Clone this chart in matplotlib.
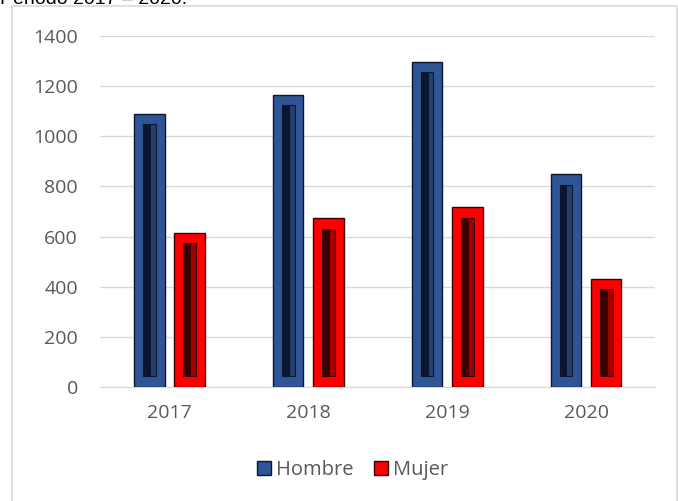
import matplotlib.pyplot as plt
import matplotlib.patches as mpatches
import numpy as np

# datos
years   = ['2017', '2018', '2019', '2020']
hombre  = [1090, 1165, 1297, 848]
mujer   = [615, 673, 718, 432]

COLOR_H = '#2F5597'
COLOR_M = '#FF0000'
DARK_H  = '#0B1730'
DARK_M  = '#3A0000'
GRAY    = '#595959'

plt.rcParams['font.family'] = ['Open Sans', 'DejaVu Sans']

fig = plt.figure(figsize=(6.78, 5.01), dpi=100)
ax = fig.add_axes([0.1475, 0.2275, 0.8193, 0.7006])

x = np.arange(len(years))
w = 0.22
off = 0.145


def bevel_bars(xs, vals, color, dark, light):
    # barra principal + canal oscuro interior (efecto bisel)
    ax.bar(xs, vals, width=w, color=color, edgecolor=dark, linewidth=1.0, zorder=3)
    inner = [v - 0.06 * 1400 for v in vals]
    ax.bar(xs, inner, width=w * 0.42, bottom=0.03 * 1400,
           color=light, edgecolor=dark, linewidth=0.8, zorder=4)
    ax.bar(xs - w * 0.06, inner, width=w * 0.22, bottom=0.03 * 1400,
           color=dark, linewidth=0, zorder=5)


bevel_bars(x - off, hombre, COLOR_H, DARK_H, '#26406E')
bevel_bars(x + off, mujer, COLOR_M, DARK_M, '#A00000')

ax.set_xlim(-0.5, len(years) - 0.5)
ax.set_ylim(0, 1400)
ax.set_yticks(range(0, 1401, 200))
ax.set_xticks(x)
ax.set_xticklabels(years)
ax.tick_params(axis='both', length=0, labelsize=14, labelcolor=GRAY)
ax.tick_params(axis='x', pad=12)
ax.tick_params(axis='y', pad=16)
ax.grid(axis='y', color='#D9D9D9', linewidth=1.0, zorder=0)
ax.set_axisbelow(True)
for s in ['top', 'right', 'left']:
    ax.spines[s].set_visible(False)
ax.spines['bottom'].set_color('#D9D9D9')

handles = [mpatches.Patch(facecolor=COLOR_H, edgecolor=DARK_H, label='Hombre'),
           mpatches.Patch(facecolor=COLOR_M, edgecolor=DARK_M, label='Mujer')]
fig.legend(handles=handles, loc='center', bbox_to_anchor=(0.52, 0.062), ncol=2,
           frameon=False, fontsize=14.5, labelcolor=GRAY, handlelength=0.7,
           handleheight=0.7, handletextpad=0.25, columnspacing=1.0)

# marco del gráfico
frame = mpatches.Rectangle((12 / 678, -0.01), (678 - 13) / 678, 1 - 6 / 501 + 0.01,
                           transform=fig.transFigure, fill=False,
                           edgecolor='#D9D9D9', linewidth=1.2)
fig.patches.append(frame)

# título (recortado arriba como en el original)
fig.text(0.0, 1 - 4 / 501, 'Periodo 2017 – 2020.', fontsize=14,
         family=['Liberation Sans', 'DejaVu Sans'], va='baseline', ha='left')

fig.savefig('out.png', dpi=100)
